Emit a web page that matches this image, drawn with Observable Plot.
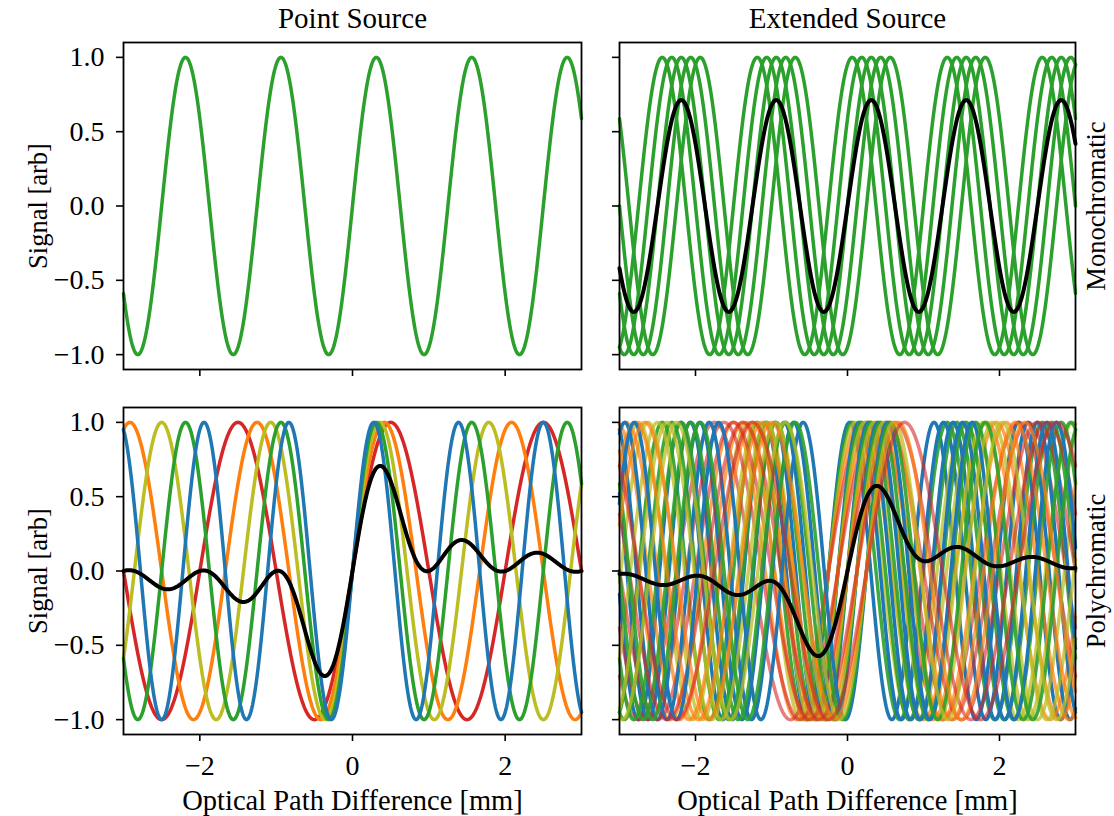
<!DOCTYPE html>
<html>
<head>
<meta charset="utf-8">
<script src="https://cdn.jsdelivr.net/npm/d3@7"></script>
<script src="https://cdn.jsdelivr.net/npm/@observablehq/plot@0.6"></script>
<style>
  html, body { margin: 0; padding: 0; background: #ffffff; }
  #fig { position: relative; width: 1114px; height: 816px; overflow: hidden; background: #ffffff; }
</style>
</head>
<body>
<div id="fig"></div>
<script>
// ---------------- data ----------------
const xTicks = [-2, 0, 2];
const yTicks = [-1, -0.5, 0, 0.5, 1];
const columnTitles = ["Point Source", "Extended Source"];
const rowTitles = ["Monochromatic", "Polychromatic"];
const xLabel = "Optical Path Difference [mm]";
const yLabel = "Signal [arb]";
// wavenumbers (1/mm) of the drawn fringes
const monoWavenumbers = [0.8];
const polyWavenumbers = [0.5, 0.6, 0.7, 0.8, 0.9];
// OPD offsets (mm) of the drawn extended-source fringes
const drawnShifts = [0.25, 0.125, 0, -0.125, -0.25];
// dense spectrum and source offsets that the black mean signal averages over
const spectrumWavenumbers = [0, 0.05, 0.1, 0.15, 0.2, 0.25, 0.3, 0.35, 0.4, 0.45, 0.5,
                             0.55, 0.6, 0.65, 0.7, 0.75, 0.8, 0.85, 0.9, 0.95, 1];
const sourceShifts = [-0.25, -0.2, -0.15, -0.1, -0.05, 0, 0.05, 0.1, 0.15, 0.2, 0.25];
const pointShift = [0];
// OPD sample grid (mm)
const opd = d3.range(-300, 301).map(i => i / 100);

// ---------------- styles ----------------
const monoColor = "#2ca02c";
const polyColors = ["#d62728", "#ff7f0e", "#bcbd22", "#2ca02c", "#1f77b4"];
const polyOpacity = [0.6, 0.7, 0.75, 0.9, 1];
const FONT = "'Liberation Serif', 'Times New Roman', serif";

// ---------------- helpers ----------------
function fringe(k, shift) {
  return opd.map(x => ({x, y: Math.sin(2 * Math.PI * k * (x + shift))}));
}
function meanSignal(ks, shifts) {
  return opd.map(x => {
    let s = 0, n = 0;
    for (const k of ks) for (const d of shifts) { s += Math.sin(2 * Math.PI * k * (x + d)); n++; }
    return {x, y: s / n};
  });
}
const minus = s => s.replace("-", "\u2212");
const fmtX = d => minus(String(d));
const fmtY = d => minus(d.toFixed(1));
const blank = () => "";

function panel(o) {
  const marks = [];
  for (const c of o.curves) {
    marks.push(Plot.line(c.data, {x: "x", y: "y", stroke: c.color, strokeOpacity: c.opacity ?? 1, strokeWidth: 3.5}));
  }
  if (o.black) marks.push(Plot.line(o.black, {x: "x", y: "y", stroke: "black", strokeWidth: 4}));
  marks.push(Plot.frame({stroke: "black", strokeWidth: 1.8}));
  marks.push(Plot.axisX({ticks: xTicks, tickSize: 7, tickPadding: 14, strokeWidth: 1.6,
    tickFormat: o.xLabels ? fmtX : blank, label: null, fontSize: 28}));
  marks.push(Plot.axisY({ticks: yTicks, tickSize: 7, tickPadding: 12, strokeWidth: 1.6,
    tickFormat: o.yLabels ? fmtY : blank, label: null, fontSize: 28}));
  const t = {text: d => d, lineAnchor: "middle", textAnchor: "middle"};
  if (o.title) marks.push(Plot.text([o.title], {...t, fontSize: 29, frameAnchor: "top", dy: -24}));
  if (o.rowTitle) marks.push(Plot.text([o.rowTitle], {...t, fontSize: 26.5, frameAnchor: "right", dx: 21, rotate: -90}));
  if (o.yTitle) marks.push(Plot.text([o.yTitle], {...t, fontSize: 26.5, frameAnchor: "left", dx: -85, rotate: -90}));
  if (o.xTitle) marks.push(Plot.text([o.xTitle], {...t, fontSize: 28.5, frameAnchor: "bottom", dy: 66}));
  const svg = Plot.plot({
    width: o.width, height: o.height,
    marginLeft: o.ml, marginRight: o.mr, marginTop: o.mt, marginBottom: o.mb,
    x: {domain: [-3, 3], label: null},
    y: {domain: [-1.1, 1.1], label: null},
    style: {position: "absolute", left: o.left + "px", top: o.top + "px",
            fontFamily: FONT, fontSize: "28px", background: "transparent", color: "black", overflow: "visible"},
    marks
  });
  document.getElementById("fig").appendChild(svg);
}

// layout
const L = {left: 0, width: 600, ml: 123, mr: 19};
const R = {left: 600, width: 514, ml: 19, mr: 39};
const T = {top: 0, height: 388, mt: 42, mb: 19};
const B = {top: 388, height: 428, mt: 19, mb: 82};

// Point source, monochromatic
panel({...L, ...T, curves: monoWavenumbers.map(k => ({data: fringe(k, 0), color: monoColor})),
  xLabels: false, yLabels: true, title: columnTitles[0], yTitle: yLabel});

// Extended source, monochromatic
panel({...R, ...T,
  curves: drawnShifts.map(d => ({data: fringe(monoWavenumbers[0], d), color: monoColor})),
  black: meanSignal(monoWavenumbers, sourceShifts),
  xLabels: false, yLabels: false, title: columnTitles[1], rowTitle: rowTitles[0]});

// Point source, polychromatic
panel({...L, ...B,
  curves: polyWavenumbers.map((k, j) => ({data: fringe(k, 0), color: polyColors[j]})),
  black: meanSignal(spectrumWavenumbers, pointShift),
  xLabels: true, yLabels: true, yTitle: yLabel, xTitle: xLabel});

// Extended source, polychromatic (blue drawn first, translucent reds on top)
const brCurves = [];
drawnShifts.forEach(d => {
  for (let j = polyWavenumbers.length - 1; j >= 0; j--) {
    brCurves.push({data: fringe(polyWavenumbers[j], d), color: polyColors[j], opacity: polyOpacity[j]});
  }
});
panel({...R, ...B, curves: brCurves,
  black: meanSignal(spectrumWavenumbers, sourceShifts),
  xLabels: true, yLabels: false, xTitle: xLabel, rowTitle: rowTitles[1]});
</script>
</body>
</html>
